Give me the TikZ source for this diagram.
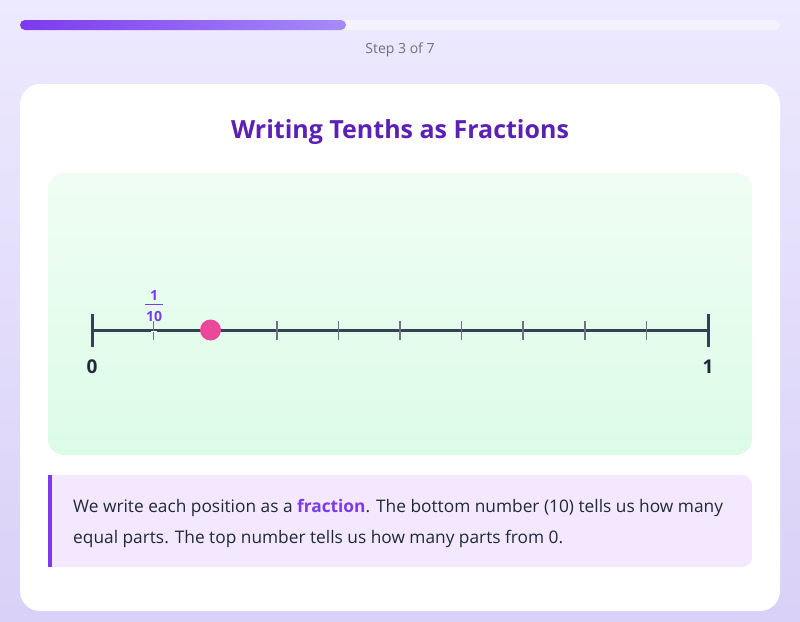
\documentclass[tikz,border=0pt]{standalone}
\usepackage{fontspec}
\setmainfont{Open Sans}
\usetikzlibrary{shapes.geometric}
\definecolor{bgtop}{HTML}{EDE9FE}
\definecolor{bgbot}{HTML}{D9D1F7}
\definecolor{track}{HTML}{F4F2FD}
\definecolor{barA}{HTML}{7C3AED}
\definecolor{barB}{HTML}{A78BFA}
\definecolor{steptxt}{HTML}{6B7280}
\definecolor{titlec}{HTML}{5B21B6}
\definecolor{greenA}{HTML}{F0FDF4}
\definecolor{greenB}{HTML}{DCFCE7}
\definecolor{linec}{HTML}{334155}
\definecolor{tickc}{HTML}{6B7280}
\definecolor{dotc}{HTML}{EC4899}
\definecolor{labc}{HTML}{1F2937}
\definecolor{fracc}{HTML}{7C3AED}
\definecolor{infobg}{HTML}{F3E8FF}
\definecolor{txtc}{HTML}{1F2937}
\tikzset{
  smalltick/.style={draw=tickc, line width=1.5pt},
  endtick/.style={draw=linec, line width=3pt},
  endlabel/.style={font=\bfseries\fontsize{19}{22}\selectfont, text=labc},
  fraclabel/.style={font=\bfseries\fontsize{14}{16}\selectfont, text=fracc, inner sep=0pt},
  bodyline/.style={anchor=base west, font=\fontsize{17.3}{20}\selectfont, text=txtc, inner sep=0pt},
}
\begin{document}
\begin{tikzpicture}[x=1pt,y=-1pt]
\useasboundingbox (0,0) rectangle (800,621);
% background
\shade[top color=bgtop, bottom color=bgbot] (0,0) rectangle (800,621);
% progress bar
\fill[track, rounded corners=5pt] (20,20) rectangle (780,30);
\shade[left color=barA, right color=barB, rounded corners=5pt] (20,20) rectangle (346,30);
\node[font=\fontsize{14}{16}\selectfont, text=steptxt] (step) at (400,50) {Step 3 of 7};
% card
\fill[white, rounded corners=20pt] (20,84) rectangle (780,611);
\node[font=\bfseries\fontsize{25}{28}\selectfont, text=titlec] (title) at (400,132) {Writing Tenths as Fractions};
% green panel
\shade[top color=greenA, bottom color=greenB, rounded corners=16pt] (48,173) rectangle (752,455);
% number line
\coordinate (L0) at (92,330);
\coordinate (L1) at (708,330);
\draw[draw=linec, line width=3pt] (L0) -- (L1);
\foreach \k in {1,3,4,5,6,7,8,9} {
  \draw[smalltick] (92+61.6*\k,321) -- (92+61.6*\k,340);
}
\draw[white, line width=1pt] (151,331) -- (157,331);
\draw[endtick] (92,314) -- (92,347);
\draw[endtick] (708,314) -- (708,347);
\fill[dotc] (210.5,330) circle (10.5);
\node[endlabel] (zero) at (92,367) {0};
\node[endlabel] (one) at (708,367) {1};
\node[fraclabel] (num) at (154,295) {1};
\draw[fracc, line width=1.4pt] (145,304.5) -- (163,304.5);
\node[fraclabel] (den) at (154,316) {10};
% info box
\fill[infobg, rounded corners=10pt] (48,475) rectangle (752,567);
\fill[infobg] (48,475) rectangle (60,567);
\fill[barA] (48,475) rectangle (52,567);
\node[bodyline] (t1) at (73,512) {We write each position as a {\bfseries\color{fracc}fraction}. The bottom number (10) tells us how many};
\node[bodyline] (t2) at (73,543) {equal parts. The top number tells us how many parts from 0.};
\end{tikzpicture}
\end{document}
